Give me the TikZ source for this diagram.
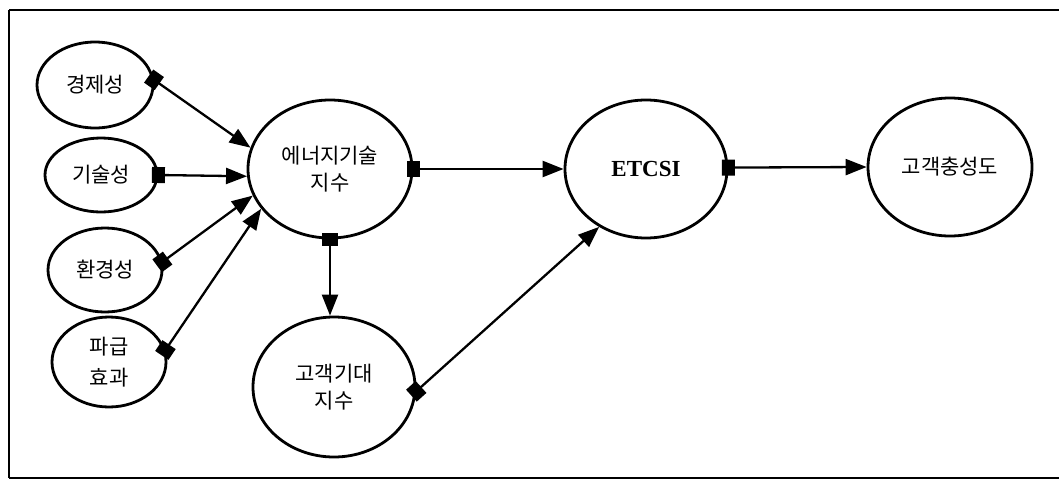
\documentclass[tikz,border=0pt]{standalone}
\usepackage{fontspec}
\setmainfont{Liberation Serif}
\newfontfamily\kr{Noto Sans CJK KR}
\usetikzlibrary{arrows.meta,shapes.geometric}
\tikzset{
  lv/.style={ellipse, draw, line width=2.8pt, inner sep=0pt, align=center,
    font=\kr\fontsize{21}{27}\selectfont},
  conn/.style={line width=2.3pt, -{Triangle[length=21pt,width=16pt]}},
  sq/.style={conn, {Square[length=13pt,width=16pt]}-{Triangle[length=21pt,width=16pt]}, shorten <=-6.5pt},
  edge line/.style={line width=2pt}
}
\begin{document}
\begin{tikzpicture}[x=1pt,y=-1pt]
\useasboundingbox (0,0) rectangle (1059,479);
\coordinate (tl) at (9,10);
\coordinate (bl) at (9,477.5);
\coordinate (tr) at (1059,10);
\coordinate (br) at (1059,477.5);
\draw[edge line] (tl) -- (tr);
\draw[edge line] (tl) -- (bl);
\draw[edge line] (bl) -- (br);

\node[lv, minimum width=116pt, minimum height=86pt] (ge) at (95,85) {경제성};
\node[lv, minimum width=112pt, minimum height=74pt] (gs) at (101,175) {기술성};
\node[lv, minimum width=114pt, minimum height=84pt] (hg) at (105,270) {환경성};
\node[lv, minimum width=114pt, minimum height=90pt] (pg) at (109,362) {파급\\[4pt]효과};
\node[lv, minimum width=164pt, minimum height=138pt] (en) at (330,169) {에너지기술\\지수};
\node[lv, minimum width=162pt, minimum height=140pt] (gd) at (334,387) {고객기대\\지수};
\node[lv, minimum width=162pt, minimum height=138pt, font=\bfseries\fontsize{23}{27}\selectfont] (et) at (646,169) {ETCSI};
\node[lv, minimum width=164pt, minimum height=138pt] (gc) at (950,167) {고객충성도};

\draw[sq] (ge.5) -- (en.165);
\draw[sq] (gs.0) -- (en.185);
\draw[sq] (hg.8) -- (en.199);
\draw[sq] (pg.12) -- (en.210);
\draw[sq] (en.0) -- (et.180);
\draw[sq] (en.south) -- (en.south |- gd.north);
\draw[sq] (gd.-3) -- (et.231);
\draw[sq] (et.1) -- (gc.180);
\end{tikzpicture}
\end{document}
